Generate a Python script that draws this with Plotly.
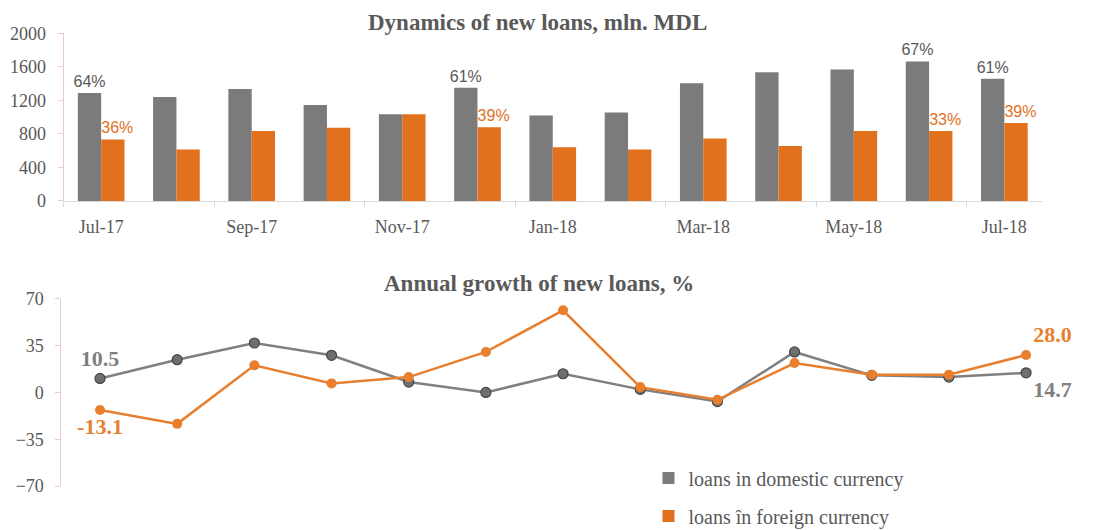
import plotly.graph_objects as go

# ── Data ─────────────────────────────────────────────────────────────────────

MONTHS = ["Jul-17", "Aug-17", "Sep-17", "Oct-17", "Nov-17", "Dec-17", "Jan-18",
          "Feb-18", "Mar-18", "Apr-18", "May-18", "Jun-18", "Jul-18"]
TICK_MONTHS = ["Jul-17", "Sep-17", "Nov-17", "Jan-18", "Mar-18", "May-18", "Jul-18"]

# new loans, mln. MDL
DOMESTIC_VOL = [1290, 1240, 1335, 1145, 1035, 1350, 1020, 1055, 1405, 1535, 1570, 1665, 1460]
FOREIGN_VOL = [735, 615, 835, 875, 1035, 880, 640, 615, 745, 655, 835, 835, 930]
DOMESTIC_SHARE = ["64%", "", "", "", "", "61%", "", "", "", "", "", "67%", "61%"]
FOREIGN_SHARE = ["36%", "", "", "", "", "39%", "", "", "", "", "", "33%", "39%"]

# annual growth, %
DOMESTIC_GROWTH = [10.5, 24.5, 37.0, 27.8, 7.8, 0.0, 14.0, 2.3, -6.8, 30.3, 12.8, 11.5, 14.7]
FOREIGN_GROWTH = [-13.1, -23.5, 20.3, 6.8, 11.5, 30.3, 61.5, 4.0, -5.5, 22.0, 13.3, 13.3, 28.0]
DOMESTIC_GROWTH_LBL = ["10.5", "", "", "", "", "", "", "", "", "", "", "", "14.7"]
FOREIGN_GROWTH_LBL = ["-13.1", "", "", "", "", "", "", "", "", "", "", "", "28.0"]

# ── Theme ────────────────────────────────────────────────────────────────────

GRAY = "#7b7b7b"
ORANGE = "#e2711d"
LINE_ORANGE = "#e87f2e"
TEXT = "#595959"
AXIS_PINK = "#e8cccc"
AXIS_GRAY = "#d9d9d9"
SERIF = "Liberation Serif, Times New Roman, serif"
SANS = "Liberation Sans Narrow, Liberation Sans, sans-serif"
NBSP = "\u00a0"

fig = go.Figure()

# ── Top: bar chart ───────────────────────────────────────────────────────────

fig.add_trace(go.Bar(
    x=MONTHS, y=DOMESTIC_VOL, name="loans in domestic currency",
    marker_color=GRAY, marker_line_width=0,
    text=DOMESTIC_SHARE, textposition="outside", cliponaxis=False,
    constraintext="none", textfont=dict(family=SANS, size=16, color=TEXT),
    legendgroup="a", xaxis="x", yaxis="y",
))
fig.add_trace(go.Bar(
    x=MONTHS, y=FOREIGN_VOL, name="loans în foreign currency",
    marker_color=ORANGE, marker_line_width=0,
    # padded so the label sits right of the grey neighbour, as in Excel
    text=[NBSP * 2 + t if t else "" for t in FOREIGN_SHARE],
    textposition="outside", cliponaxis=False,
    constraintext="none", textfont=dict(family=SANS, size=16, color=ORANGE),
    legendgroup="b", xaxis="x", yaxis="y",
))

# ── Bottom: growth lines ─────────────────────────────────────────────────────

fig.add_trace(go.Scatter(
    x=MONTHS, y=DOMESTIC_GROWTH, mode="lines+markers+text", showlegend=False,
    line=dict(color="#808080", width=2.5),
    marker=dict(size=10, color="#6e716b", line=dict(color="#454545", width=1.2)),
    text=DOMESTIC_GROWTH_LBL,
    textposition=["top center"] * 12 + ["bottom right"],
    textfont=dict(family=SERIF, size=22, color="#7f7f7f", weight="bold"),
    cliponaxis=False, xaxis="x2", yaxis="y2",
))
fig.add_trace(go.Scatter(
    x=MONTHS, y=FOREIGN_GROWTH, mode="lines+markers+text", showlegend=False,
    line=dict(color=LINE_ORANGE, width=2.5),
    marker=dict(size=10, color=LINE_ORANGE),
    text=FOREIGN_GROWTH_LBL,
    textposition=["bottom center"] + ["top center"] * 11 + ["top right"],
    textfont=dict(family=SERIF, size=22, color=LINE_ORANGE, weight="bold"),
    cliponaxis=False, xaxis="x2", yaxis="y2",
))

# ── Layout ───────────────────────────────────────────────────────────────────

tick_font = dict(family=SERIF, size=18, color=TEXT)

fig.update_layout(
    width=1101, height=530,
    paper_bgcolor="white", plot_bgcolor="white",
    margin=dict(l=0, r=0, t=0, b=0, autoexpand=False),
    barmode="group", bargap=0.38, bargroupgap=0,
    showlegend=True,
    legend=dict(
        x=0.589, y=0.135, xanchor="left", yanchor="top",
        bgcolor="rgba(0,0,0,0)", tracegroupgap=9, itemwidth=30,
        font=dict(family=SERIF, size=20, color=TEXT),
    ),
    xaxis=dict(
        domain=[0.0577, 0.9464], anchor="y", type="category", automargin=False,
        range=[-0.5, 12.5], tickvals=TICK_MONTHS, tickson="boundaries",
        ticks="outside", ticklen=5, tickcolor=AXIS_GRAY, ticklabelstandoff=9,
        showline=True, linecolor=AXIS_GRAY, linewidth=1,
        showgrid=False, tickfont=tick_font,
    ),
    yaxis=dict(
        domain=[0.6208, 0.937], anchor="x", range=[0, 2000], dtick=400,
        automargin=False, ticklabelstandoff=8,
        showline=True, linecolor=AXIS_PINK, ticks="outside", ticklen=5,
        tickcolor=AXIS_PINK, showgrid=False, zeroline=False, tickfont=tick_font,
    ),
    xaxis2=dict(
        domain=[0.0558, 0.967], anchor="y2", type="category", automargin=False,
        range=[-0.5, 12.5], showline=False, showticklabels=False,
        ticks="", showgrid=False, zeroline=False,
    ),
    yaxis2=dict(
        domain=[0.083, 0.436], anchor="x2", range=[-70, 70], dtick=35,
        automargin=False, ticklabelstandoff=8,
        showline=True, linecolor=AXIS_PINK, ticks="outside", ticklen=5,
        tickcolor=AXIS_PINK, showgrid=False, zeroline=False, tickfont=tick_font,
    ),
    annotations=[
        dict(text="<b>Dynamics of new loans, mln. MDL</b>", x=0.488, y=0.958,
             xref="paper", yref="paper", xanchor="center", yanchor="middle",
             showarrow=False, font=dict(family=SERIF, size=23, color=TEXT)),
        dict(text="<b>Annual growth of new loans, %</b>", x=0.49, y=0.466,
             xref="paper", yref="paper", xanchor="center", yanchor="middle",
             showarrow=False, font=dict(family=SERIF, size=23, color=TEXT)),
    ],
)

# the page body has a default 8px margin; drop it so the figure fills the window
fig.write_html(
    "out.html",
    config={"displayModeBar": False},
    post_script="document.body.style.margin = '0px';",
)
